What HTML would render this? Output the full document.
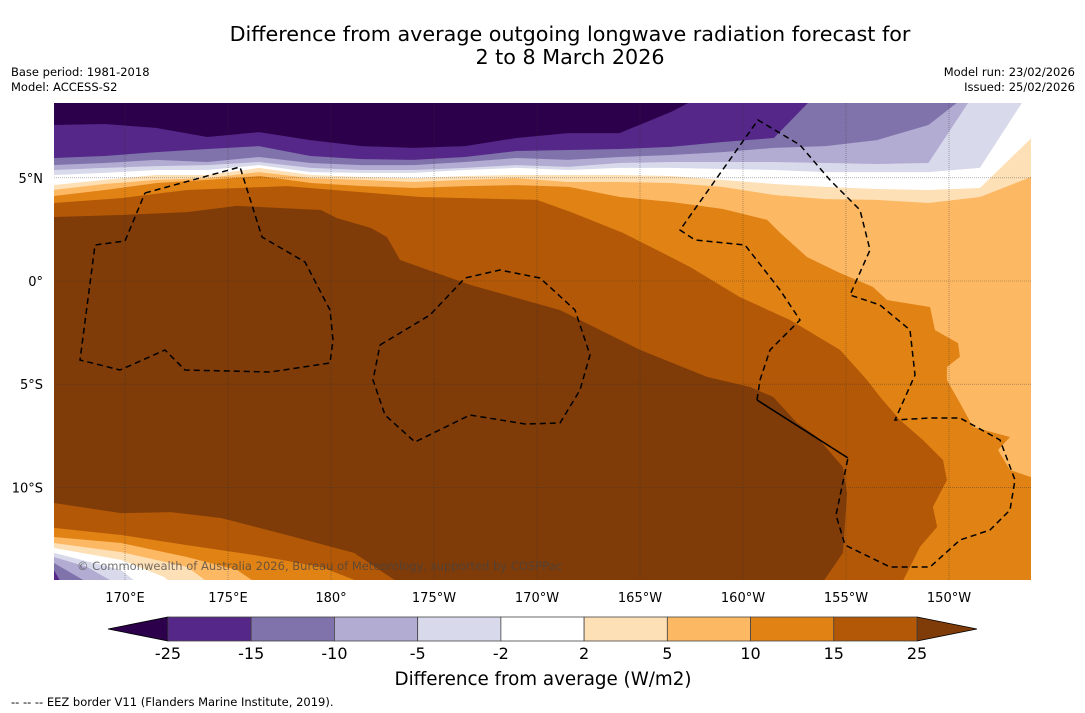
<!DOCTYPE html>
<html><head><meta charset="utf-8"><style>
body{margin:0;background:#fff;}
svg{display:block;font-family:"DejaVu Sans","Liberation Sans",sans-serif;}
</style></head><body>
<svg id="chart" width="1085" height="713" viewBox="0 0 1085 713">
<rect width="1085" height="713" fill="#fff"/>
<text x="570" y="41" font-size="20.7" text-anchor="middle">Difference from average outgoing longwave radiation forecast for</text>
<text x="570" y="64" font-size="20.7" text-anchor="middle">2 to 8 March 2026</text>
<text x="11" y="76" font-size="11.5">Base period: 1981-2018</text>
<text x="11" y="91" font-size="11.5">Model: ACCESS-S2</text>
<text x="1075" y="76" font-size="11.5" text-anchor="end">Model run: 23/02/2026</text>
<text x="1075" y="91" font-size="11.5" text-anchor="end">Issued: 25/02/2026</text>
<defs><clipPath id="mapclip"><rect x="54" y="103" width="977" height="477"/></clipPath></defs>
<g id="map" clip-path="url(#mapclip)"></g>
<g id="axes"></g>
<g id="cbar"></g>
<text x="543" y="685" font-size="18.3" text-anchor="middle">Difference from average (W/m2)</text>
<text x="11" y="706" font-size="11.5">--  --  -- EEZ border V11 (Flanders Marine Institute, 2019).</text>
</svg>
<script>
// ---- data ----
const levels = [-25,-15,-10,-5,-2,2,5,10,15,25];
const levelColors = ["#2d004b","#542788","#8073ac","#b2abd2","#d8daeb","#ffffff","#fee0b6","#fdb863","#e08214","#b35806","#7f3b08"];
const lonTicks = [170,175,180,185,190,195,200,205,210];
const lonTickLabels = ["170°E","175°E","180°","175°W","170°W","165°W","160°W","155°W","150°W"];
const latTicks = [5,0,-5,-10];
const latTickLabels = ["5°N","0°","5°S","10°S"];
const lonGrid = [166.5,169,171.5,174,176.5,179,181.5,184,186.5,189,191.5,194,196.5,199,201.5,204,206.5,209,211.5,214.1];
const north5  = [4.41,4.70,4.90,4.99,5.28,4.99,4.90,4.80,4.90,4.99,4.80,4.80,4.75,4.56,4.17,3.97,3.93,3.78,4.07,5.09];
const north2  = [4.65,4.90,5.14,5.14,5.48,5.14,5.04,4.99,5.09,5.14,5.14,5.14,5.09,4.90,4.70,4.56,4.46,4.41,4.51,7.03];
const northM2 = [5.14,5.24,5.38,5.38,5.62,5.28,5.24,5.24,5.38,5.48,5.38,5.48,5.48,5.43,5.38,5.28,5.28,5.28,5.48,9.5];
const northM5 = [5.38,5.48,5.57,5.62,5.77,5.48,5.38,5.38,5.48,5.62,5.53,5.72,5.77,5.77,5.77,5.72,5.67,5.72,9.5,9.5];
const northM10= [5.62,5.72,5.87,5.77,6.01,5.72,5.62,5.62,5.77,5.96,5.87,6.01,6.11,6.25,6.45,6.54,6.83,7.56,9.5,9.5];
const northM15= [5.96,6.06,6.25,6.40,6.54,6.06,5.91,5.87,6.01,6.30,6.35,6.40,6.50,6.74,6.93,9.5,9.5,9.5,9.5,9.5];
const northM25= [7.56,7.61,7.42,6.98,7.22,6.83,6.54,6.45,6.54,6.93,7.17,7.17,8.19,9.5,9.5,9.5,9.5,9.5,9.5,9.5];
const region10 = [[166.55,4.12],[169.03,4.41],[171.55,4.75],[174.03,4.90],[176.55,5.09],[179.03,4.75],[181.55,4.60],[184.03,4.51],[186.55,4.60],[189.03,4.65],[191.55,4.56],[194.03,4.07],[196.55,3.83],[199.03,3.49],[201.17,2.96],[201.8,2.33],[203.11,1.16],[204.71,0.39],[206.31,-0.29],[206.99,-0.92],[209.08,-1.26],[209.32,-2.38],[210.44,-3.01],[210.53,-3.68],[209.9,-4.17],[209.9,-4.8],[210.53,-5.91],[211.17,-7.08],[212.96,-7.56],[212.38,-8.19],[212.96,-9.16],[214.1,-9.55],[214.1,-15],[166.5,-15]];
const region15 = [[166.55,3.78],[169.81,4.02],[173.01,4.41],[177.86,4.60],[184.37,4.07],[190.0,3.93],[191.75,3.30],[194.17,2.33],[195.83,1.50],[197.43,0.68],[199.85,-0.78],[202.28,-1.89],[204.71,-3.34],[206.02,-4.80],[206.65,-5.62],[207.62,-6.74],[208.74,-7.71],[209.71,-8.68],[209.9,-9.65],[209.22,-10.95],[209.42,-11.92],[208.59,-12.89],[207.96,-14.15],[207.62,-14.8],[181.94,-14.8],[179.51,-13.86],[176.26,-13.28],[173.01,-12.80],[169.81,-12.31],[166.55,-11.97]];
const region25 = [[166.55,3.10],[169.81,3.20],[173.01,3.34],[175.44,3.64],[179.51,3.44],[180.29,3.05],[181.94,2.57],[182.72,2.13],[183.35,1.02],[186.75,-0.19],[191.12,-1.41],[195.0,-3.34],[198.25,-4.65],[200.34,-5.14],[201.46,-5.62],[202.62,-6.88],[203.59,-7.56],[204.85,-9.02],[205.05,-10.28],[204.85,-13.18],[203.74,-14.8],[183.54,-14.8],[181.12,-13.18],[177.86,-12.31],[174.66,-11.49],[172.23,-11.20],[169.81,-11.25],[166.55,-10.76]];
const sw10  = [[166.55,-12.41],[169.81,-12.70],[173.01,-13.38],[175.44,-14.01],[176.6,-14.8]];
const sw5   = [[166.55,-12.70],[169.81,-13.14],[173.01,-13.86],[174.3,-14.8]];
const sw2   = [[166.55,-12.94],[169.81,-13.52],[171.9,-14.35],[172.4,-14.8]];
const swM2  = [[166.55,-13.18],[169.81,-14.01],[170.8,-14.8]];
const swM5  = [[166.55,-13.38],[168.15,-13.86],[169.8,-14.8]];
const swM10 = [[166.55,-13.67],[167.4,-14.16],[168.5,-14.8]];
const swM15 = [[166.55,-14.01],[167.0,-14.8]];

const NS="http://www.w3.org/2000/svg";
function X(lon){return 125+(lon-170)*20.6;}
function Y(lat){return 281-lat*20.63;}
function mk(tag,attrs,parent){const e=document.createElementNS(NS,tag);for(const k in attrs)e.setAttribute(k,attrs[k]);parent.appendChild(e);return e;}
const map=document.getElementById('map');
function poly(pts,color,name){
  const p=mk('polygon',{points:pts.map(q=>X(q[0]).toFixed(1)+','+Y(q[1]).toFixed(1)).join(' '),fill:color},map);
  
  
}
const bg=mk('rect',{x:54,y:103,width:977,height:477,fill:levelColors[7]},map);


poly(region10,levelColors[8],'field-10-to-15');
poly(region15,levelColors[9],'field-15-to-25');
poly(region25,levelColors[10],'field-above-25');
function northBand(arr,color,name){
  const pts=[[166.4,9.5]].concat(lonGrid.map((l,i)=>[l,arr[i]])).concat([[214.2,9.5]]);
  poly(pts,color,name);
}
northBand(north5,levelColors[6],'north-band-2-to-5');
northBand(north2,levelColors[5],'north-band-minus2-to-2');
northBand(northM2,levelColors[4],'north-band-minus5-to-minus2');
northBand(northM5,levelColors[3],'north-band-minus10-to-minus5');
northBand(northM10,levelColors[2],'north-band-minus15-to-minus10');
northBand(northM15,levelColors[1],'north-band-minus25-to-minus15');
northBand(northM25,levelColors[0],'north-band-below-minus25');
function swBand(arr,color,name){poly([[166.4,-15]].concat(arr),color,name);}
swBand(sw10,levelColors[7],'sw-band-5-to-10');
swBand(sw5,levelColors[6],'sw-band-2-to-5');
swBand(sw2,levelColors[5],'sw-band-minus2-to-2');
swBand(swM2,levelColors[4],'sw-band-minus5-to-minus2');
swBand(swM5,levelColors[3],'sw-band-minus10-to-minus5');
swBand(swM10,levelColors[2],'sw-band-minus15-to-minus10');
swBand(swM15,levelColors[1],'sw-band-minus25-to-minus15');

lonTicks.forEach(l=>{const g=mk('line',{x1:X(l),x2:X(l),y1:103,y2:580,stroke:'#333','stroke-width':0.6,'stroke-dasharray':'1 1',opacity:0.6},map);
  
  });
latTicks.forEach(l=>{const g=mk('line',{x1:54,x2:1031,y1:Y(l),y2:Y(l),stroke:'#333','stroke-width':0.6,'stroke-dasharray':'1 1',opacity:0.6},map);
  
  });

const eez=[
 "145,193 240,167 262,237 305,262 330,310 333,340 330,363 270,372 185,370 165,350 120,370 80,360 95,245 125,241 145,193",
 "380,345 430,315 465,278 500,270 540,278 575,310 590,355 580,390 560,423 525,424 470,415 415,442 385,415 373,380 380,345",
 "757,400 760,380 770,350 800,320 780,290 745,245 695,240 680,230 758,120 800,145 830,180 860,210 870,250 850,295 880,305 910,330 915,375 895,420 930,418 960,418 1000,440 1015,480 1010,510 990,530 960,540 930,567 890,567 845,545 836,515 848,458"];
eez.forEach(s=>{const e=mk('polyline',{points:s,fill:'none',stroke:'#000','stroke-width':1.5,'stroke-dasharray':'6 4'},map);
  
  });
const sol=mk('line',{x1:757,y1:400,x2:848,y2:458,stroke:'#000','stroke-width':1.5},map);


const cp=mk('text',{x:77,y:570,'font-size':11.5,fill:'#444','fill-opacity':0.75,textLength:485},map);
cp.textContent='© Commonwealth of Australia 2026, Bureau of Meteorology, supported by COSPPac';



const axes=document.getElementById('axes');
lonTicks.forEach((l,i)=>{const t=mk('text',{x:X(l),y:602,'font-size':13,'text-anchor':'middle'},axes);t.textContent=lonTickLabels[i];
  
  });
latTicks.forEach((l,i)=>{const t=mk('text',{x:43,y:Y(l)+5,'font-size':13,'text-anchor':'end'},axes);t.textContent=latTickLabels[i];
  
  });

const cb=document.getElementById('cbar');
const cx0=168,cx1=917,cy0=617,cy1=641,segW=(cx1-cx0)/(levels.length-1);
const lt=mk('polygon',{points:`108,629 ${cx0},${cy0} ${cx0},${cy1}`,fill:levelColors[0],stroke:'#000','stroke-width':0.8},cb);


const rt=mk('polygon',{points:`977,629 ${cx1},${cy0} ${cx1},${cy1}`,fill:levelColors[10],stroke:'#000','stroke-width':0.8},cb);


for(let i=0;i<levels.length-1;i++){
  const r=mk('rect',{x:cx0+i*segW,y:cy0,width:segW,height:cy1-cy0,fill:levelColors[i+1],stroke:'#444','stroke-width':0.8},cb);
  
  
}
levels.forEach((v,i)=>{const t=mk('text',{x:cx0+i*segW,y:659,'font-size':16,'text-anchor':'middle'},cb);t.textContent=v;
  
  });
</script>
</body></html>
